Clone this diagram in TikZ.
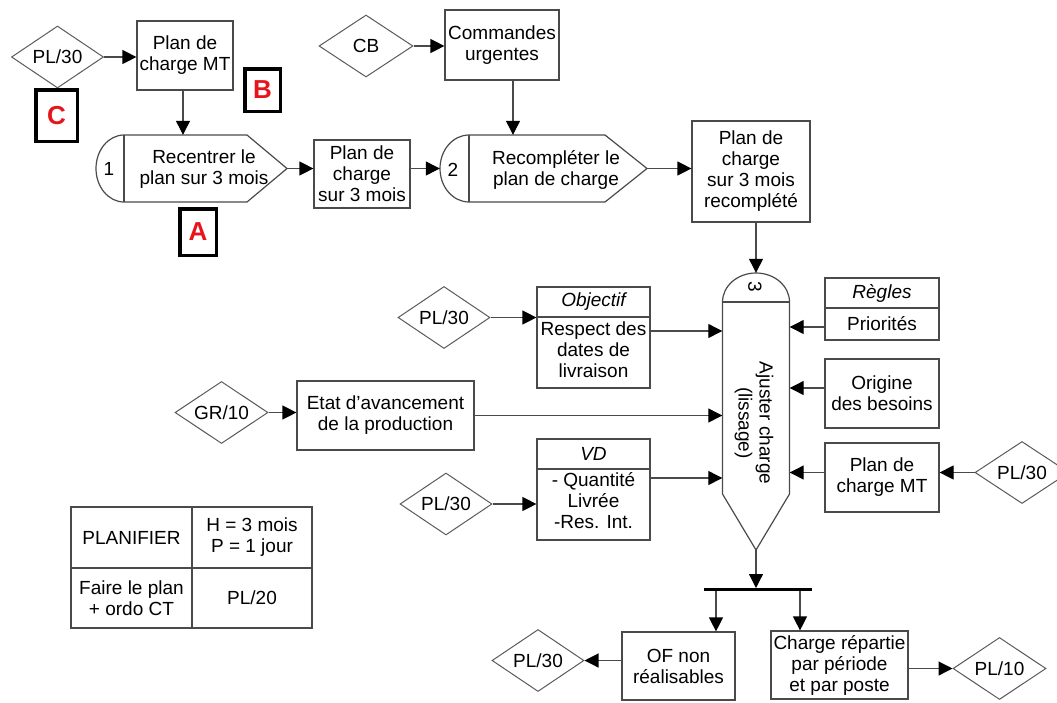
\documentclass[tikz,border=0pt]{standalone}
\usepackage{fontspec}
\setmainfont{Liberation Sans}
\usetikzlibrary{shapes.geometric,arrows.meta}
\definecolor{linec}{HTML}{4A4A4A}
\definecolor{diac}{HTML}{5A5A5A}
\definecolor{tagred}{HTML}{E8141C}
\begin{document}
\begin{tikzpicture}[x=1pt,y=-1pt,
  font=\fontsize{19}{21}\selectfont,
  box/.style={draw=linec, line width=1.2pt, rectangle, inner sep=0pt, align=center},
  ghost/.style={draw=none, rectangle, inner sep=0pt},
  dia/.style={draw=diac, line width=1pt, diamond, aspect=1.5, inner sep=0pt, minimum width=92pt, minimum height=62pt},
  arr/.style={draw=linec, line width=1.2pt, -{Triangle[length=14pt,width=14pt,color=black]}},
  outl/.style={draw=linec, line width=1.2pt},
  tag/.style={draw=black, line width=3.5pt, text=tagred, font=\fontsize{26}{26}\selectfont\bfseries, inner sep=0pt},
  txt/.style={align=center, inner sep=0pt},
]
\useasboundingbox (0,0) rectangle (1057,702);
\clip (0,0) rectangle (1057,702);

% ---------- top row ----------
\node[dia] (dC) at (57.5,57) {PL/30};
\node[box, minimum width=96pt, minimum height=69pt] (bMT) at (185,55.5) {Plan de\\charge MT};
\node[tag, minimum width=35.5pt, minimum height=42.5pt] (tB) at (262.5,90) {B};
\node[tag, minimum width=41.5pt, minimum height=51.5pt] (tC) at (56.5,115.5) {C};
\node[tag, minimum width=36.5pt, minimum height=46.5pt] (tA) at (198,232) {A};

% process 1
\node[ghost, minimum width=191pt, minimum height=67pt] (p1) at (191.5,168.5) {};
\draw[outl] (124,135) arc[start angle=270,end angle=90,x radius=28,y radius=33.5]
  -- (247,202) -- (287,168.5) -- (247,135) -- cycle;
\draw[outl] (124,135) -- (124,202);
\node[txt] (n1) at (109,169) {1};
\node[txt] (p1t) at (204,169) {Recentrer le\\plan sur 3 mois};

\node[box, minimum width=96pt, minimum height=68pt] (bP3) at (362,174) {Plan de\\charge\\sur 3 mois};

\node[dia, minimum width=94pt] (cb) at (366,46) {CB};
\node[box, minimum width=114pt, minimum height=70pt] (bCU) at (502,45) {Commandes\\urgentes};

% process 2
\node[ghost, minimum width=207pt, minimum height=67pt] (p2) at (543.5,168.5) {};
\draw[outl] (469,135) arc[start angle=270,end angle=90,x radius=29,y radius=33.5]
  -- (605,202) -- (647,168.5) -- (605,135) -- cycle;
\draw[outl] (469,135) -- (469,202);
\node[txt] (n2) at (453,170) {2};
\node[txt] (p2t) at (556,170) {Recompléter le\\plan de charge};

\node[box, minimum width=118pt, minimum height=101pt] (bRC) at (751,171.5) {Plan de\\charge\\sur 3 mois\\recomplété};

% ---------- process 3 ----------
\node[ghost, minimum width=67pt, minimum height=277pt] (p3) at (756,411.5) {};
\draw[outl] (722.5,302) arc[start angle=180,end angle=360,x radius=33.5,y radius=29]
  -- (789.5,494) -- (756,550) -- (722.5,494) -- cycle;
\draw[outl] (722.5,302) -- (789.5,302);
\node[txt, rotate=-90] (n3) at (755,287) {3};
\node[txt, rotate=-90] (p3t) at (754,423) {Ajuster charge\\(lissage)};

% left inputs
\node[dia] (d1) at (444,317.5) {PL/30};
\node[box, minimum width=113pt, minimum height=101pt] (obj) at (593.5,337.5) {};
\draw[outl] (537,317) -- (650,317);
\node[txt, font=\fontsize{19}{21}\selectfont\itshape] (objh) at (593.5,302) {Objectif};
\node[txt] (objb) at (593.5,350) {Respect des\\dates de\\livraison};

\node[dia, minimum width=93pt] (gr) at (221.5,412.5) {GR/10};
\node[box, minimum width=177pt, minimum height=69pt] (etat) at (385.5,415.5) {Etat d’avancement\\de la production};

\node[dia] (d3) at (446,504) {PL/30};
\node[box, minimum width=113pt, minimum height=101pt] (vd) at (593.5,489.5) {};
\draw[outl] (537,469) -- (650,469);
\node[txt, font=\fontsize{19}{21}\selectfont\itshape] (vdh) at (593.5,454) {VD};
\node[txt] (vdb) at (593.5,501) {- Quantité\\Livrée\\-Res. Int.};

% right inputs
\node[box, minimum width=114pt, minimum height=62pt] (reg) at (882,309) {};
\draw[outl] (825,308) -- (939,308);
\node[txt, font=\fontsize{19}{21}\selectfont\itshape] (regh) at (882,293) {Règles};
\node[txt] (regb) at (882,324) {Priorités};
\node[box, minimum width=114pt, minimum height=69pt] (ori) at (882,393.5) {Origine\\des besoins};
\node[box, minimum width=114pt, minimum height=69pt] (mt2) at (882,477.5) {Plan de\\charge MT};
\node[dia, minimum width=94pt] (dR) at (1022,472.5) {PL/30};

% bottom
\coordinate (barL) at (704,589.5);
\coordinate (barR) at (812,589.5);
\coordinate (barC) at (756,588);
\coordinate (b1) at (716,591);
\coordinate (b2) at (800,591);
\node[box, minimum width=113pt, minimum height=68pt] (bOF) at (678.5,666) {OF non\\réalisables};
\node[box, minimum width=137pt, minimum height=68pt] (bCh) at (839.5,665) {Charge répartie\\par période\\et par poste};
\node[dia] (dB) at (538,660.5) {PL/30};
\node[dia, minimum width=93pt] (d10) at (999.5,668.5) {PL/10};

% table
\node[draw=linec, line width=1.3pt, rectangle, inner sep=0pt, minimum width=241pt, minimum height=121pt] (tab) at (191.5,567.5) {};
\draw[draw=linec, line width=1.3pt] (192,507) -- (192,628);
\draw[draw=linec, line width=1.3pt] (71,568) -- (312,568);
\node[txt] (tab1) at (131.5,537.5) {PLANIFIER};
\node[txt] (tab2) at (252,537.5) {H = 3 mois\\P = 1 jour};
\node[txt] (tab3) at (131.5,598) {Faire le plan\\+ ordo CT};
\node[txt] (tab4) at (252,598) {PL/20};

% ---------- connectors ----------
\draw[arr] (dC.east) -- (dC.east -| bMT.west);
\draw[arr] ([xshift=-2pt]bMT.south) -- ([xshift=-2pt]bMT.south |- p1.north);
\draw[arr] (p1.east) -- (p1.east -| bP3.west);
\draw[arr] (p2.west -| bP3.east) -- (p2.west);
\draw[arr] (cb.east) -- (cb.east -| bCU.west);
\draw[arr] ([xshift=11pt]bCU.south) -- ([xshift=11pt]bCU.south |- p2.north);
\draw[arr] (p2.east) -- (p2.east -| bRC.west);
\draw[arr] (bRC.south -| p3.north) -- (p3.north);

\draw[arr] (d1.east) -- (d1.east -| obj.west);
\draw[arr] ([yshift=6.5pt]obj.east) -- ([yshift=6.5pt]obj.east -| p3.west);
\draw[arr] (gr.east) -- (gr.east -| etat.west);
\draw[arr] (etat.east) -- (etat.east -| p3.west);
\draw[arr] (d3.east) -- (d3.east -| vd.west);
\draw[arr] ([yshift=11.5pt]vd.east) -- ([yshift=11.5pt]vd.east -| p3.west);

\draw[arr] ([yshift=-18pt]reg.west) -- ([yshift=-18pt]reg.west -| p3.east);
\draw[arr] ([yshift=5.5pt]ori.west) -- ([yshift=5.5pt]ori.west -| p3.east);
\draw[arr] (dR.west -| mt2.west) -- (dR.west -| p3.east);
\draw[arr] (dR.west) -- (dR.west -| mt2.east);

\draw[arr] (p3.south) -- (barC);
\draw[line width=3pt] (barL) -- (barR);
\draw[arr] (b1) -- (b1 |- bOF.north);
\draw[arr] (b2) -- (b2 |- bCh.north);
\draw[arr] (dB.east -| bOF.west) -- (dB.east);
\draw[arr] (d10.west -| bCh.east) -- (d10.west);
\end{tikzpicture}
\end{document}
